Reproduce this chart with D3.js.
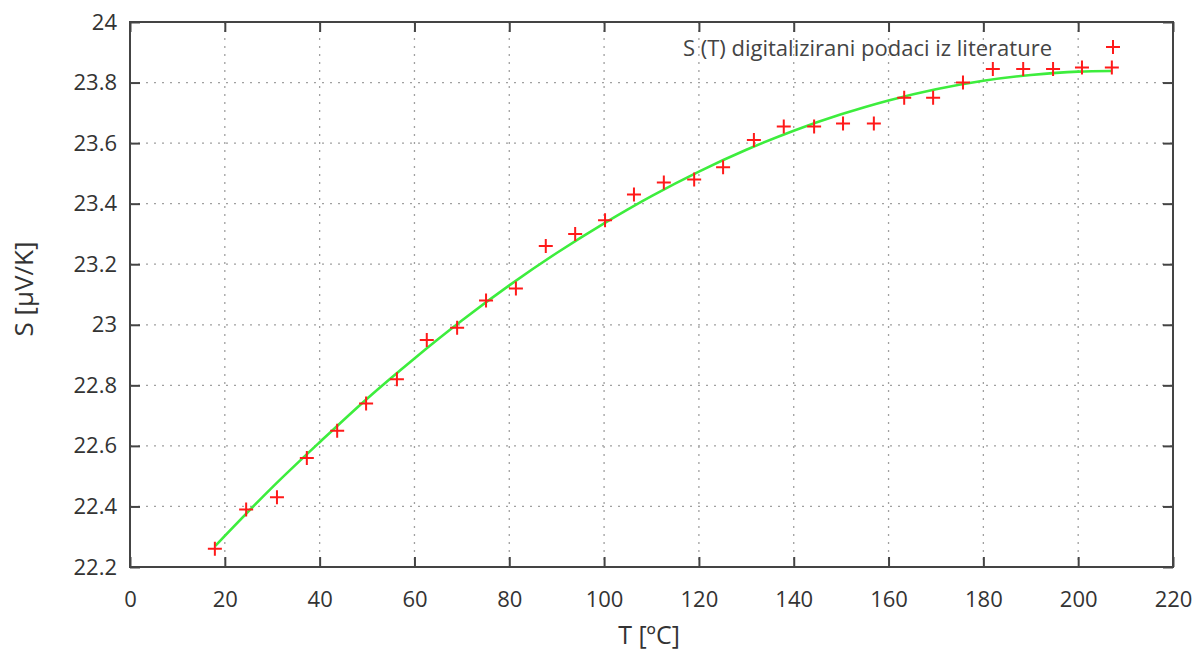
<!DOCTYPE html>
<html><head><meta charset="utf-8">
<script src="https://cdn.jsdelivr.net/npm/d3@7"></script>
<style>body{margin:0;background:#fff}svg{display:block}</style>
</head><body><svg id="c" width="1200" height="655"></svg>
<script>
const xTicks = [0,20,40,60,80,100,120,140,160,180,200,220];
const yTicks = [22.2,22.4,22.6,22.8,23,23.2,23.4,23.6,23.8,24];
const dataT = [17.9,24.5,31.0,37.3,43.7,49.8,56.3,62.6,69.0,75.1,81.4,87.7,93.9,100.2,106.3,112.6,119.0,125.1,131.6,137.9,144.3,150.4,156.9,163.3,169.4,175.7,182.0,188.4,194.7,200.8,207.1];
const dataS = [22.26,22.39,22.43,22.56,22.65,22.74,22.82,22.95,22.99,23.08,23.12,23.26,23.30,23.345,23.43,23.47,23.48,23.52,23.61,23.655,23.655,23.665,23.665,23.75,23.75,23.80,23.845,23.845,23.845,23.85,23.85];
const fitT = [18,30,40,50,60,70,80,90,100,110,120,130,140,150,160,170,180,190,200,207];
const fitS = [22.27,22.463,22.612,22.756,22.889,23.014,23.13,23.237,23.335,23.425,23.506,23.578,23.641,23.695,23.741,23.778,23.806,23.825,23.836,23.838];
const legendLabel = "S (T) digitalizirani podaci iz literature";

const svg = d3.select("#c");
const L=130,R=1173,T=22,B=567;
const x = d3.scaleLinear().domain([0,220]).range([L,R]);
const y = d3.scaleLinear().domain([22.2,24]).range([B,T]);
const font = "'Open Sans', 'Noto Sans', sans-serif";
const tc = "#333";

// grid
const g = svg.append("g");
g.selectAll(".vg").data(xTicks.filter(d=>d>0&&d<220)).enter().append("line")
 .attr("x1",d=>x(d)).attr("x2",d=>x(d)).attr("y1",T).attr("y2",B)
 .attr("stroke","#a0a0a0").attr("stroke-width",1.3).attr("stroke-dasharray","2,6");
g.selectAll(".hg").data(yTicks.filter(d=>d>22.2&&d<24)).enter().append("line")
 .attr("y1",d=>y(d)).attr("y2",d=>y(d)).attr("x1",L).attr("x2",R)
 .attr("stroke","#a0a0a0").attr("stroke-width",1.3).attr("stroke-dasharray","2,6");

// axes with inward ticks
const ax = svg.append("g").attr("transform",`translate(0,${B})`)
 .call(d3.axisBottom(x).tickValues(xTicks).tickSize(-10).tickPadding(24).tickFormat(d3.format("d")));
const ax2 = svg.append("g").attr("transform",`translate(0,${T})`)
 .call(d3.axisTop(x).tickValues(xTicks).tickSize(-10).tickFormat(""));
const ay = svg.append("g").attr("transform",`translate(${L},0)`)
 .call(d3.axisLeft(y).tickValues(yTicks).tickSize(-10).tickPadding(13).tickFormat(d=>d3.format("~g")(d)));
const ay2 = svg.append("g").attr("transform",`translate(${R},0)`)
 .call(d3.axisRight(y).tickValues(yTicks).tickSize(-10).tickFormat(""));
[ax,ax2,ay,ay2].forEach(a=>{
  a.select(".domain").remove();
  a.selectAll(".tick line").attr("stroke","#444").attr("stroke-width",2);
  a.selectAll("text").attr("fill",tc).style("font-family",font).style("font-size","22px");
});
svg.append("rect").attr("x",L).attr("y",T).attr("width",R-L).attr("height",B-T)
 .attr("fill","none").attr("stroke","#444").attr("stroke-width",2);

// fit line
const fit = fitT.map((t,i)=>[t,fitS[i]]);
svg.append("path").datum(fit)
 .attr("d",d3.line().x(d=>x(d[0])).y(d=>y(d[1])).curve(d3.curveMonotoneX))
 .attr("fill","none").attr("stroke","#3ded3d").attr("stroke-width",2.6);

// points
const pts = dataT.map((t,i)=>[t,dataS[i]]);
const cross = (sel,cx,cy)=>{
  sel.append("path").attr("d",`M${cx-7},${cy}H${cx+7}M${cx},${cy-7}V${cy+7}`)
   .attr("stroke","#ff1a1a").attr("stroke-width",2).attr("fill","none");
};
const pg = svg.append("g");
pts.forEach(p=>cross(pg,x(p[0]),y(p[1])));

// legend
svg.append("text").attr("x",1052).attr("y",56).attr("text-anchor","end")
 .attr("fill","#444").style("font-family",font).style("font-size","22px").text(legendLabel);
cross(svg,1113,47);

// axis titles
svg.append("text").attr("x",649).attr("y",644).attr("text-anchor","middle")
 .attr("fill",tc).style("font-family",font).style("font-size","25px").text("T [ºC]");
svg.append("text").attr("transform","translate(33,289) rotate(-90)").attr("text-anchor","middle")
 .attr("fill",tc).style("font-family",font).style("font-size","26px").text("S [µV/K]");
</script></body></html>
